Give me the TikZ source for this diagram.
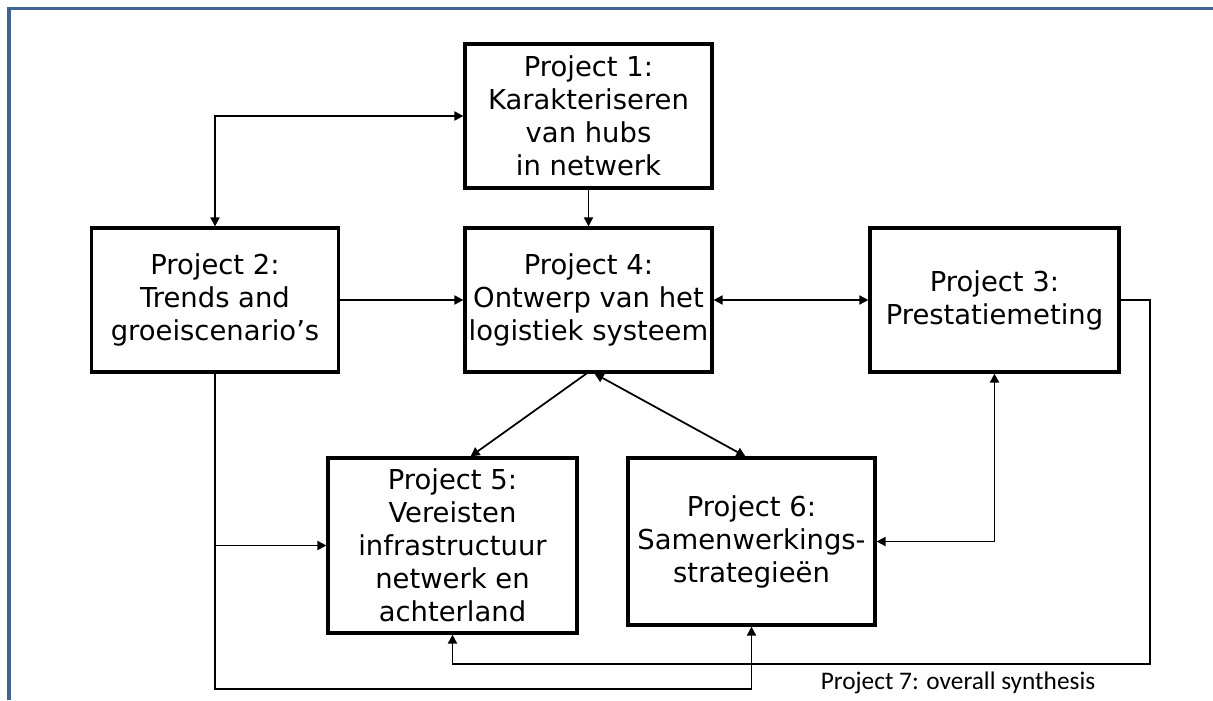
\documentclass[tikz,border=0pt]{standalone}
\usepackage{fontspec}
\setmainfont{DejaVu Sans}
\newfontfamily\calibri{Carlito}
\usetikzlibrary{arrows.meta, positioning}
\definecolor{framecol}{RGB}{65,100,145}

\begin{document}
\begin{tikzpicture}[
  x=0.025cm, y=-0.025cm,
  proj/.style={rectangle, draw, line width=2.2pt, minimum width=6.175cm, minimum height=3.6cm,
               align=center, inner sep=0pt, font=\fontsize{19.5}{23.5}\selectfont},
  link/.style={line width=1.25pt, -{Triangle[length=6.5pt,width=6.5pt]}},
  dlink/.style={line width=1.25pt, {Triangle[length=6.5pt,width=6.5pt]}-{Triangle[length=6.5pt,width=6.5pt]}}
]
\useasboundingbox (0,0) rectangle (1213,700);
\draw[framecol, line width=2.4pt] (9,700) -- (9,8.5) -- (1213,8.5);

\node[proj]                      (p1) at (588.5,116) {Project 1:\\Karakteriseren\\van hubs\\in netwerk};
\node[proj]                      (p2) at (215,300)   {Project 2:\\Trends and\\groeiscenario’s};
\node[proj]                      (p4) at (588.5,300) {Project 4:\\Ontwerp van het\\logistiek systeem};
\node[proj, minimum width=6.225cm] (p3) at (994.5,300) {Project 3:\\Prestatiemeting};
\node[proj, minimum width=6.225cm, minimum height=4.375cm] (p5) at (452.5,545.5) {Project 5:\\Vereisten\\infrastructuur\\netwerk en\\achterland};
\node[proj, minimum height=4.175cm] (p6) at (751.5,541.5) {Project 6:\\Samenwerkings-\\strategieën};
\node[font=\calibri\fontsize{18}{20}\selectfont] (p7) at (958,683) {Project 7: overall synthesis};

\coordinate (low)  at (215,689);
\coordinate (loop) at (1150,664);

\draw[dlink] (p2.north) |- (p1.west);
\draw[link]  (p1) -- (p4);
\draw[link]  (p2) -- (p4);
\draw[dlink] (p4) -- (p3);
\draw[link]  ([xshift=-0.05cm]p4.south) -- ([xshift=0.45cm]p5.north);
\draw[dlink] ([xshift=0.15cm]p4.south) -- ([xshift=-0.15cm]p6.north);
\draw[dlink] (p3.south) |- (p6.east);
\draw[link]  (p2.south) |- (p5.west);
\draw[link]  (p2.south) -- (low) -| (p6.south);
\draw[link]  (p3.east) -| (loop) -| (p5.south);
\end{tikzpicture}
\end{document}
